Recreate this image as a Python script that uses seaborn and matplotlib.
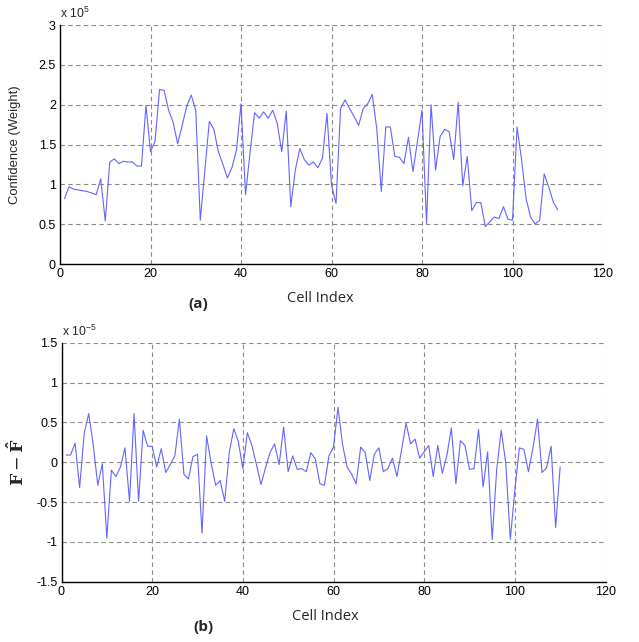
import numpy as np
import pandas as pd
import matplotlib
matplotlib.use("Agg")
import matplotlib.pyplot as plt
import seaborn as sns

# Panel (a): confidence weight per cell, in units of 1e5
cells = np.arange(1, 111)
confidence = [
    0.82, 0.97, 0.94, 0.93, 0.92, 0.91, 0.89, 0.87, 1.07, 0.54,
    1.28, 1.32, 1.26, 1.29, 1.28, 1.28, 1.23, 1.23, 1.99, 1.41,
    1.54, 2.19, 2.18, 1.93, 1.78, 1.51, 1.74, 1.98, 2.12, 1.93,
    0.55, 1.17, 1.79, 1.69, 1.41, 1.25, 1.08, 1.21, 1.43, 2.01,
    0.87, 1.40, 1.90, 1.83, 1.91, 1.83, 1.93, 1.77, 1.41, 1.92,
    0.72, 1.18, 1.45, 1.31, 1.24, 1.28, 1.21, 1.33, 1.89, 0.99,
    0.76, 1.95, 2.06, 1.95, 1.85, 1.74, 1.95, 2.01, 2.13, 1.70,
    0.91, 1.72, 1.72, 1.35, 1.34, 1.26, 1.59, 1.16, 1.54, 1.93,
    0.51, 2.00, 1.18, 1.60, 1.69, 1.66, 1.31, 2.03, 0.98, 1.35,
    0.67, 0.77, 0.77, 0.47, 0.53, 0.59, 0.57, 0.72, 0.56, 0.55,
    1.72, 1.31, 0.82, 0.59, 0.50, 0.55, 1.13, 0.97, 0.78, 0.68,
]

# Panel (b): F - F_hat per cell, in units of 1e-5
error = [
    0.09, 0.09, 0.24, -0.32, 0.36, 0.61, 0.22, -0.29, -0.02, -0.95,
    -0.10, -0.18, -0.06, 0.18, -0.49, 0.61, -0.49, 0.40, 0.20, 0.20,
    -0.06, 0.17, -0.13, -0.03, 0.08, 0.54, -0.15, -0.21, 0.07, 0.10,
    -0.89, 0.33, -0.01, -0.29, -0.23, -0.49, 0.12, 0.42, 0.26, -0.08,
    0.37, 0.21, -0.03, -0.28, -0.07, 0.12, 0.23, -0.03, 0.44, -0.12,
    0.08, -0.09, -0.08, -0.12, 0.12, 0.04, -0.27, -0.29, 0.08, 0.19,
    0.69, 0.22, -0.06, -0.15, -0.27, 0.19, 0.12, -0.23, 0.10, 0.18,
    -0.12, -0.08, 0.05, -0.18, 0.15, 0.49, 0.23, 0.29, 0.05, 0.13,
    0.21, -0.18, 0.21, -0.14, 0.08, 0.43, -0.27, 0.27, 0.21, -0.09,
    -0.08, 0.41, -0.31, 0.13, -0.97, -0.09, 0.40, -0.01, -0.97, -0.35,
    0.18, 0.16, -0.12, 0.18, 0.54, -0.13, -0.07, 0.20, -0.82, -0.06,
]

xticks = [0, 20, 40, 60, 80, 100, 120]
yticks_a = [0, 0.5, 1, 1.5, 2, 2.5, 3]
yticks_b = [-1.5, -1, -0.5, 0, 0.5, 1, 1.5]

df = pd.DataFrame({"cell": cells, "confidence": confidence, "error": error})

sns.set_style("white")
plt.rcParams["font.family"] = ["Liberation Sans", "DejaVu Sans"]

W, H = 639, 642
fig = plt.figure(figsize=(W / 100, H / 100), dpi=100)

line_color = "#6464ff"
grid_kw = dict(color="#8a8a8a", linestyle=(0, (4, 3)), linewidth=0.8)


def style_axes(ax, yticks):
    ax.set_xlim(0, 120)
    ax.set_ylim(yticks[0], yticks[-1])
    ax.set_xticks(xticks)
    ax.set_yticks(yticks)
    ax.set_xticklabels([str(t) for t in xticks])
    ax.set_yticklabels([f"{t:g}" for t in yticks])
    ax.grid(True, **grid_kw)
    ax.set_axisbelow(True)
    for side in ["top", "right"]:
        ax.spines[side].set_visible(False)
    for side in ["left", "bottom"]:
        ax.spines[side].set_color("black")
        ax.spines[side].set_linewidth(1.0)
    ax.tick_params(direction="in", length=3, width=0.8, labelsize=9,
                   colors="black", pad=3)
    ax.set_xlabel("")


# top panel
ax1 = fig.add_axes([60 / W, 1 - 264 / H, 543 / W, 239 / H])
sns.lineplot(data=df, x="cell", y="confidence", ax=ax1, color=line_color,
             linewidth=0.8)
style_axes(ax1, yticks_a)
ax1.set_ylabel("Confidence (Weight)", fontsize=9.4)
ax1.yaxis.set_label_coords(-0.072, 0.5)
ax1.text(0.0, 1.015, r"x 10$^{\mathregular{5}}$", transform=ax1.transAxes,
         fontsize=8.8, ha="left", va="bottom")

# bottom panel
ax2 = fig.add_axes([61.5 / W, 1 - 581.7 / H, 544 / W, 239 / H])
sns.lineplot(data=df, x="cell", y="error", ax=ax2, color=line_color,
             linewidth=0.8)
style_axes(ax2, yticks_b)
ax2.set_ylabel(r"$\mathbf{F}-\mathbf{\hat{F}}$", fontsize=12.5,
               math_fontfamily="dejavuserif")
ax2.yaxis.set_label_coords(-0.063, 0.5)
ax2.text(0.0, 1.015, r"x 10$^{\mathregular{-5}}$", transform=ax2.transAxes,
         fontsize=8.8, ha="left", va="bottom")

# x labels and panel tags
fig.text(320 / W, 1 - 298.5 / H, "Cell Index", ha="center", va="center",
         fontsize=10.5, family=["Open Sans", "DejaVu Sans"])
fig.text(198.5 / W, 1 - 303.5 / H, "(a)", ha="center", va="center",
         fontsize=11, fontweight="bold", family=["Open Sans", "DejaVu Sans"])
fig.text(325.5 / W, 1 - 617 / H, "Cell Index", ha="center", va="center",
         fontsize=10.5, family=["Open Sans", "DejaVu Sans"])
fig.text(203 / W, 1 - 626.5 / H, "(b)", ha="center", va="center",
         fontsize=11, fontweight="bold", family=["Open Sans", "DejaVu Sans"])

fig.savefig("out.png", dpi=100, facecolor="white")
